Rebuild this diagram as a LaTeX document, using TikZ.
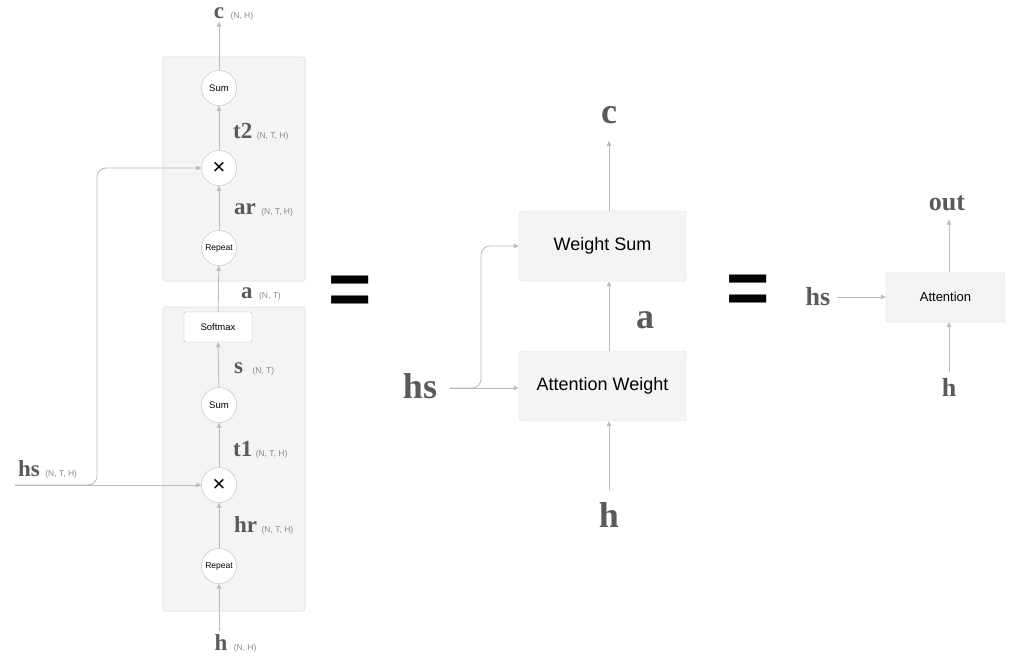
\documentclass[tikz,border=0pt]{standalone}
\usepackage{fontspec}
\setmainfont{Liberation Serif}
\setsansfont{Liberation Sans}
\usetikzlibrary{arrows.meta,positioning}
\definecolor{linegray}{HTML}{BBBBBB}
\definecolor{boxgray}{HTML}{F4F4F4}
\definecolor{framegray}{HTML}{DCDCDC}
\definecolor{labelgray}{HTML}{5A5A5A}
\definecolor{dimgray}{HTML}{8A8A8A}
\tikzset{
  flow/.style={draw=linegray, line width=0.8pt, -{Triangle[length=5pt,width=4.5pt]}},
  frame/.style={draw=framegray, fill=boxgray, rounded corners=2pt, line width=0.6pt},
  op/.style={circle, draw=linegray, fill=white, minimum size=35pt, inner sep=0pt,
    font=\sffamily\fontsize{9.5}{9.5}\selectfont},
  mulop/.style={op, font=\sffamily\fontsize{22}{22}\selectfont},
  softbox/.style={draw=linegray, fill=white, rounded corners=2pt, minimum width=68pt,
    minimum height=30pt, inner sep=0pt, font=\sffamily\fontsize{9.5}{9.5}\selectfont},
  blk/.style={draw=framegray, fill=boxgray, rounded corners=2pt, minimum width=167pt,
    minimum height=70pt, inner sep=0pt, font=\sffamily\fontsize{18}{18}\selectfont},
  lblS/.style={inner sep=0pt, text=labelgray, font=\bfseries\fontsize{23}{23}\selectfont},
  lblM/.style={inner sep=0pt, text=labelgray, font=\bfseries\fontsize{36}{36}\selectfont},
  lblR/.style={inner sep=0pt, text=labelgray, font=\bfseries\fontsize{26}{26}\selectfont},
  dim/.style={inner sep=0pt, text=dimgray, font=\sffamily\fontsize{8.5}{8.5}\selectfont},
  eqsign/.style={inner sep=0pt, font=\sffamily\bfseries\fontsize{74}{74}\selectfont}
}
\begin{document}
\begin{tikzpicture}[x=1pt,y=-1pt]
\useasboundingbox (0,0) rectangle (1020,663);
% left: detailed layers
\draw[frame] (163,57) rectangle (305,281);
\draw[frame] (163,307) rectangle (305,611);
\node[op] (sumB) at (219,88) {Sum};
\node[mulop] (mulB) at (219,168) {×};
\node[op, font=\sffamily\fontsize{8.5}{8.5}\selectfont] (repB) at (219,248) {Repeat};
\node[softbox] (soft) at (218,327) {Softmax};
\node[op] (sumA) at (219,405) {Sum};
\node[mulop] (mulA) at (219,485) {×};
\node[op, font=\sffamily\fontsize{8.5}{8.5}\selectfont] (repA) at (219,566) {Repeat};
\node[lblS] (cL) at (219,13) {c};
\node[dim, right=6pt of cL.base east, anchor=base west] {(N, H)};
\node[lblS, anchor=west] (t2) at (233,131) {t2};
\node[dim, right=4pt of t2.base east, anchor=base west] {(N, T, H)};
\node[lblS, anchor=west] (ar) at (234,209) {ar};
\node[dim, right=5pt of ar.base east, anchor=base west] {(N, T, H)};
\node[lblS, anchor=west] (aL) at (241,293) {a};
\node[dim, right=6pt of aL.base east, anchor=base west] {(N, T)};
\node[lblS, anchor=west] (sL) at (234,368) {s};
\node[dim, right=9pt of sL.base east, anchor=base west] {(N, T)};
\node[lblS, anchor=west] (t1) at (233,449) {t1};
\node[dim, right=3pt of t1.base east, anchor=base west] {(N, T, H)};
\node[lblS, anchor=west] (hr) at (234,525) {hr};
\node[dim, right=4pt of hr.base east, anchor=base west] {(N, T, H)};
\node[lblS] (hL) at (221,643) {h};
\node[dim, right=6pt of hL.base east, anchor=base west] {(N, H)};
\node[lblS, anchor=west] (hsL) at (18,469) {hs};
\node[dim, right=5pt of hsL.base east, anchor=base west] {(N, T, H)};
\coordinate (hsIn) at (15,485);
\coordinate (hsFork) at (97,485);
\draw[flow, shorten <=4pt] (repA |- hL.north) -- (repA);
\draw[flow] (repA) -- (mulA);
\draw[flow] (mulA) -- (sumA);
\draw[flow] (sumA) -- (soft);
\draw[flow] (soft) -- (repB);
\draw[flow] (repB) -- (mulB);
\draw[flow] (mulB) -- (sumB);
\draw[flow, shorten >=3pt] (sumB) -- (cL.south);
\draw[flow] (hsIn) -- (mulA);
\draw[flow, rounded corners=9pt] (hsIn) -- (hsFork) |- (mulB);
\node[eqsign] (eqA) at (350,295) {=};
% middle: two blocks
\node[blk] (wsum) at (602.5,246) {Weight Sum};
\node[blk] (attW) at (602.5,386) {Attention Weight};
\node[lblM] (cM) at (609,115) {c};
\node[lblM] (aM) at (645,320) {a};
\node[lblM] (hM) at (609,515) {h};
\node[lblM] (hsM) at (420,386) {hs};
\coordinate (hsMIn) at (450,388);
\coordinate (hsMFork) at (481,388);
\draw[flow] (hsMIn) -- (hsMIn -| attW.west);
\draw[flow, rounded corners=9pt] (hsMIn) -- (hsMFork) |- (wsum.west);
\draw[flow, shorten <=12pt] (hM.north) -- (hM.north |- attW.south);
\draw[flow] (hM |- attW.north) -- (hM |- wsum.south);
\draw[flow, shorten >=17pt] (hM |- wsum.north) -- (cM.south);
\node[eqsign] (eqB) at (748,294) {=};
% right: one layer
\node[blk, minimum width=119pt, minimum height=50pt, font=\sffamily\fontsize{13}{13}\selectfont] (att) at (945.5,297) {Attention};
\node[lblR] (outR) at (947,203) {out};
\node[lblR] (hsR) at (818,297) {hs};
\node[lblR] (hR) at (949,387) {h};
\draw[flow, shorten <=7pt] (hsR.east) -- (att.west);
\draw[flow, shorten <=6pt] (hR.north) -- (hR.north |- att.south);
\draw[flow, shorten >=9pt] (hR |- att.north) -- (hR |- outR.south);
\end{tikzpicture}
\end{document}
